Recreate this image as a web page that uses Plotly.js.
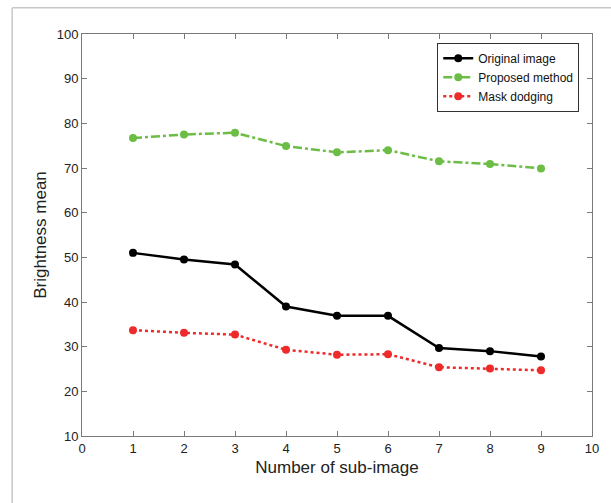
<!DOCTYPE html>
<html>
<head>
<meta charset="utf-8">
<script src="https://cdn.plot.ly/plotly-3.0.1.min.js"></script>
<style>
html,body{margin:0;padding:0;background:#fff;}
#chart{width:611px;height:503px;}
</style>
</head>
<body>
<div id="chart"></div>
<script>
const subImages = [1, 2, 3, 4, 5, 6, 7, 8, 9];
const originalImage = [51.0, 49.5, 48.4, 39.0, 36.9, 36.9, 29.7, 29.0, 27.8];
const proposedMethod = [76.7, 77.5, 77.9, 74.9, 73.5, 74.0, 71.5, 70.9, 69.9];
const maskDodging = [33.7, 33.1, 32.7, 29.3, 28.2, 28.3, 25.4, 25.1, 24.7];
const seriesNames = ['Original image', 'Proposed method', 'Mask dodging'];
const xTicks = [0,1,2,3,4,5,6,7,8,9,10];
const yTicks = [10,20,30,40,50,60,70,80,90,100];

const traces = [
  {x: subImages, y: originalImage, name: seriesNames[0], mode: 'lines+markers',
   line: {color: '#000000', width: 2.5, dash: 'solid'},
   marker: {symbol: 'circle', size: 8, color: '#000000'}},
  {x: subImages, y: proposedMethod, name: seriesNames[1], mode: 'lines+markers',
   line: {color: '#6cbd45', width: 2.5, dash: 'dashdot'},
   marker: {symbol: 'circle', size: 8, color: '#6cbd45'}},
  {x: subImages, y: maskDodging, name: seriesNames[2], mode: 'lines+markers',
   line: {color: '#ee2a2a', width: 2.5, dash: 'dot'},
   marker: {symbol: 'circle', size: 8, color: '#ee2a2a'}}
];

const axisCommon = {
  showline: true, linecolor: '#7a7a7a', linewidth: 1, mirror: 'ticks',
  ticks: 'inside', ticklen: 5, tickcolor: '#7a7a7a', showgrid: false, zeroline: false,
  tickfont: {family: 'Liberation Sans, Arial, sans-serif', size: 13, color: '#222'}
};

const layout = {
  width: 611, height: 503,
  margin: {l: 82, r: 19, t: 34, b: 67},
  paper_bgcolor: '#ffffff', plot_bgcolor: '#ffffff',
  showlegend: true,
  legend: {x: 0.975, y: 0.978, xanchor: 'right', yanchor: 'top',
    bgcolor: '#ffffff', bordercolor: '#333333', borderwidth: 1,
    font: {family: 'Liberation Sans, Arial, sans-serif', size: 12, color: '#111'},
    tracegroupgap: 0, itemwidth: 30},
  xaxis: Object.assign({}, axisCommon, {
    range: [0, 10], tickvals: xTicks, ticktext: xTicks.map(String),
    title: {text: 'Number of sub-image', standoff: 6,
      font: {family: 'Liberation Sans, Arial, sans-serif', size: 17, color: '#222'}}
  }),
  yaxis: Object.assign({}, axisCommon, {
    range: [10, 100], tickvals: yTicks, ticktext: yTicks.map(String),
    title: {text: 'Brightness mean', standoff: 5,
      font: {family: 'Liberation Sans, Arial, sans-serif', size: 17, color: '#222'}}
  }),
  shapes: [
    {type: 'line', xref: 'paper', yref: 'paper', x0: -0.137, x1: -0.137, y0: -0.2, y1: 1.065,
     line: {color: '#c8c8c8', width: 1.5}},
    {type: 'line', xref: 'paper', yref: 'paper', x0: -0.137, x1: 1.1, y0: 1.065, y1: 1.065,
     line: {color: '#c8c8c8', width: 1.5}}
  ]
};

Plotly.newPlot('chart', traces, layout, {displayModeBar: false, staticPlot: true});
</script>
</body>
</html>
